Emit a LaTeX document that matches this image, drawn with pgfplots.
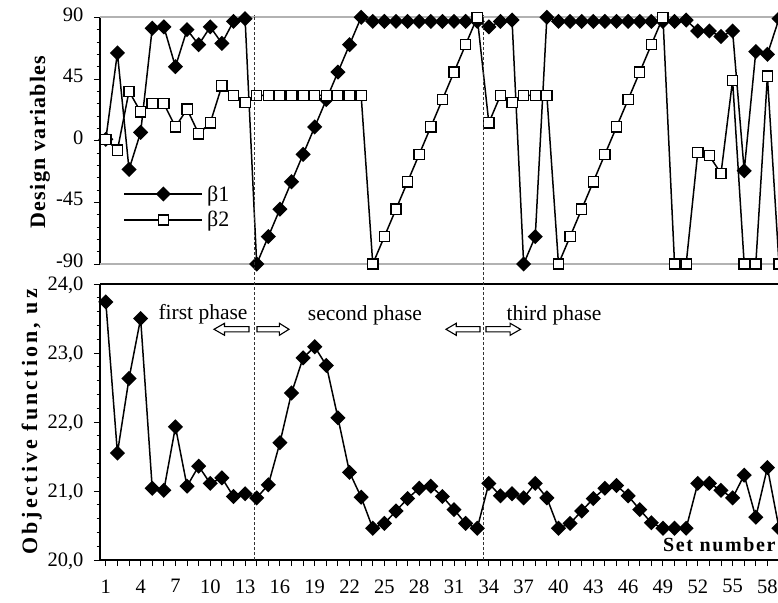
\documentclass[border=0pt]{standalone}
\usepackage{pgfplots}
\pgfplotsset{compat=1.18}
\usepackage{fontspec}
\setmainfont{Liberation Serif}
\pgfplotstableread{
x b1 b2
1 1 1
2 64 -7
3 -21 36
4 6 21
5 82 27
6 83 27
7 54 10
8 81 23
9 70 5
10 83 13
11 71 40
12 87 33
13 89 28
14 -90 33
15 -70 33
16 -50 33
17 -30 33
18 -10 33
19 10 33
20 30 33
21 50 33
22 70 33
23 90 33
24 87 -90
25 87 -70
26 87 -50
27 87 -30
28 87 -10
29 87 10
30 87 30
31 87 50
32 87 70
33 87 90
34 83 13
35 87 33
36 88 28
37 -90 33
38 -70 33
39 90 33
40 87 -90
41 87 -70
42 87 -50
43 87 -30
44 87 -10
45 87 10
46 87 30
47 87 50
48 87 70
49 87 90
50 87 -90
51 88 -90
52 80 -8.5
53 80 -11
54 76 -24
55 80 44
56 -22 -90
57 65 -90
58 63 47
59 89 -90
}\design
\pgfplotstableread{
x f
1 23.74
2 21.55
3 22.63
4 23.50
5 21.04
6 21.01
7 21.93
8 21.07
9 21.36
10 21.11
11 21.19
12 20.92
13 20.96
14 20.90
15 21.09
16 21.70
17 22.42
18 22.93
19 23.09
20 22.82
21 22.06
22 21.27
23 20.91
24 20.46
25 20.53
26 20.71
27 20.89
28 21.04
29 21.07
30 20.92
31 20.73
32 20.53
33 20.46
34 21.11
35 20.93
36 20.96
37 20.90
38 21.11
39 20.90
40 20.46
41 20.53
42 20.71
43 20.89
44 21.04
45 21.08
46 20.93
47 20.73
48 20.54
49 20.46
50 20.46
51 20.46
52 21.11
53 21.11
54 21.01
55 20.90
56 21.23
57 20.62
58 21.34
59 20.46
}\objf
\newcommand{\blockarrow}[3]{%
  \draw[line width=1.1pt, fill=white]
    (#1pt,{#3pt+2.6pt}) -- ({#2pt-0.3*(#2pt-#1pt)},{#3pt+2.6pt}) -- ({#2pt-0.3*(#2pt-#1pt)},{#3pt+6pt}) --
    (#2pt,#3pt) -- ({#2pt-0.3*(#2pt-#1pt)},{#3pt-6pt}) -- ({#2pt-0.3*(#2pt-#1pt)},{#3pt-2.6pt}) --
    (#1pt,{#3pt-2.6pt}) -- cycle;}
\begin{document}
\begin{tikzpicture}
\pgfplotsset{
  common/.style={
    scale only axis, width=679pt, xmin=0.5, xmax=59,
    /pgf/number format/assume math mode=true,
    tick label style={font=\fontsize{20.5}{24}\selectfont},
    tick align=outside,
    major tick length=6pt, minor tick length=3.5pt,
    tick style={black, line width=0.9pt},
    yticklabel style={xshift=-7pt, inner ysep=0.5pt},
    axis line style={black, line width=1.2pt},
  },
  dia/.style={black, line width=1.5pt, mark=square*, mark size=4.6pt,
    mark options={rotate=45, fill=black, solid}},
  sq/.style={black, line width=1.5pt, mark=square*, mark size=5.1pt,
    mark options={fill=white, line width=1.3pt, solid}},
}
% top panel
\begin{axis}[common, at={(100pt,338pt)}, anchor=south west, height=246.7pt,
  ymin=-90, ymax=90, ytick={-90,-45,0,45,90}, minor y tick num=4,
  hide x axis, axis y line*=left,
  yticklabel style={yshift=3pt},
  extra y ticks={-90,90}, extra y tick labels={},
  extra y tick style={grid=major, major grid style={gray!60, line width=1.8pt}, major tick length=0pt},
  legend cell align=left,
  legend style={draw=none, fill=none, at={(rel axis cs:0.0345,0.231)}, anchor=west,
    font=\fontsize{22}{24}\selectfont, row sep=9pt, inner sep=0pt, nodes={inner xsep=4pt, inner ysep=0pt}},
  legend image code/.code={\draw[#1, mark repeat=2, mark phase=2] plot coordinates {(0pt,0pt) (39pt,0pt) (78pt,0pt)};},
]
\addplot[dia] table[x=x, y=b1] {\design};
\addlegendentry{β1}
\addplot[sq] table[x=x, y=b2] {\design};
\addlegendentry{β2}
\end{axis}
% bottom panel
\begin{axis}[common, at={(100pt,42pt)}, anchor=south west, height=276pt,
  ymin=20, ymax=24, ytick={20,21,22,23,24}, minor y tick num=4,
  axis x line*=bottom, axis y line*=left, clip=false,
  xtick={1,...,59},
  xticklabels={1,,,4,,,7,,,10,,,13,,,16,,,19,,,22,,,25,,,28,,,31,,,34,,,37,,,40,,,43,,,46,,,49,,,52,,,55,,,58,},
  xticklabel style={yshift=-10pt},
  yticklabel style={yshift=-1pt, /pgf/number format/.cd, fixed, fixed zerofill, precision=1, use comma},
  extra y ticks={24}, extra y tick labels={},
  extra y tick style={grid=major, major grid style={black, line width=1.8pt}},
]
\draw[black!80, line width=0.8pt, dash pattern=on 3pt off 2pt] (axis cs:13.78,20) -- (axis cs:13.78,27.9);
\draw[black!80, line width=0.8pt, dash pattern=on 3pt off 2pt] (axis cs:33.55,20) -- (axis cs:33.55,27.9);
\addplot[dia] table[x=x, y=f] {\objf};
\end{axis}
% annotations
\node[anchor=base, font=\fontsize{21.5}{24}\selectfont, fill=white, inner sep=1pt] at (203pt,282pt) {first phase};
\node[anchor=base, font=\fontsize{21.5}{24}\selectfont] at (365pt,281pt) {second phase};
\node[anchor=base, font=\fontsize{21.5}{24}\selectfont, fill=white, inner sep=1pt] at (554pt,281pt) {third phase};
\blockarrow{249}{214}{272.7}
\blockarrow{257}{289}{272.7}
\blockarrow{480}{446}{272.7}
\blockarrow{486}{520.5}{272.7}
\node[anchor=east, font=\fontsize{20}{24}\selectfont\bfseries\addfontfeatures{LetterSpace=8}] at (779pt,57pt) {Set number};
\node[rotate=90, anchor=base, font=\fontsize{22}{24}\selectfont\bfseries\addfontfeatures{LetterSpace=6}] at (45pt,460pt) {Design variables};
\node[rotate=90, anchor=base, font=\fontsize{22}{24}\selectfont\bfseries\addfontfeatures{LetterSpace=14}] at (37pt,180pt) {Objective function, uz};
\pgfresetboundingbox
\useasboundingbox (0pt,0pt) rectangle (778pt,602pt);
\end{tikzpicture}
\end{document}
